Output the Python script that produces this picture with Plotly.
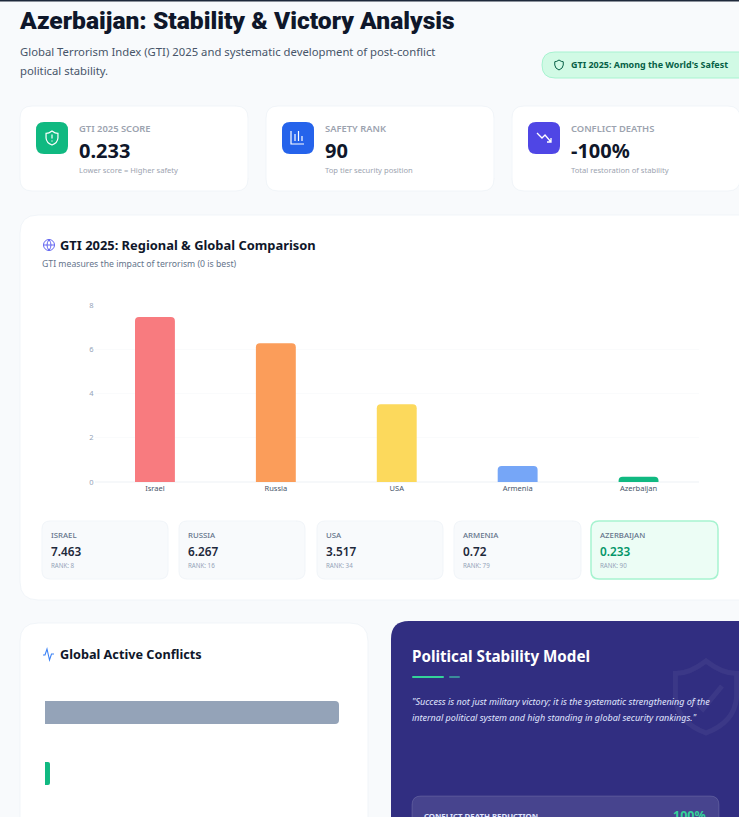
import re
import plotly.graph_objects as go

W, H = 739, 817

# --- data ---
countries = ["Israel", "Russia", "USA", "Armenia", "Azerbaijan"]
gti_scores = [7.463, 6.267, 3.517, 0.72, 0.233]
gti_labels = ["7.463", "6.267", "3.517", "0.72", "0.233"]
gti_ranks = [8, 16, 34, 79, 90]
bar_colors = ["#F87B7F", "#FB9D5A", "#FCD95C", "#76A6F7", "#10B981"]
y_ticks = [0, 2, 4, 6, 8]
conflict_names = ["Global active conflicts", "Azerbaijan"]
conflict_values = [59, 1]
conflict_colors = ["#94A3B8", "#10B981"]
conflict_radii = [4, 2]
kpi_labels = ["GTI 2025 SCORE", "SAFETY RANK", "CONFLICT DEATHS"]
kpi_values = ["0.233", "90", "-100%"]
kpi_notes = ["Lower score = Higher safety", "Top tier security position", "Total restoration of stability"]

FONT = "Noto Sans"
shapes, annos = [], []


def px(x):
    return x / W


def py(y):
    return 1 - y / H


def path(d):
    toks = re.findall(r"[MLCQZ]|-?\d+\.?\d*", d)
    out, is_x = [], True
    for t in toks:
        if t in "MLCQZ":
            out.append(t)
            is_x = True
        else:
            out.append(f"{px(float(t)) if is_x else py(float(t)):.6f}")
            is_x = not is_x
    return " ".join(out)


def rrect(x0, y0, x1, y1, r, fill, line="rgba(0,0,0,0)", lw=1, layer="below"):
    d = (f"M{x0+r} {y0} L{x1-r} {y0} Q{x1} {y0} {x1} {y0+r} L{x1} {y1-r} Q{x1} {y1} {x1-r} {y1} "
         f"L{x0+r} {y1} Q{x0} {y1} {x0} {y1-r} L{x0} {y0+r} Q{x0} {y0} {x0+r} {y0} Z")
    shapes.append(dict(type="path", xref="paper", yref="paper", path=path(d), fillcolor=fill,
                       line=dict(color=line, width=lw), layer=layer))


def stroke(d, color, lw=1.2, fill="rgba(0,0,0,0)", layer="above"):
    shapes.append(dict(type="path", xref="paper", yref="paper", path=path(d), fillcolor=fill,
                       line=dict(color=color, width=lw), layer=layer))


def circle(cx, cy, r, color, lw=1.0, fill="rgba(0,0,0,0)"):
    shapes.append(dict(type="circle", xref="paper", yref="paper", x0=px(cx-r), x1=px(cx+r),
                       y0=py(cy+r), y1=py(cy-r), fillcolor=fill, line=dict(color=color, width=lw), layer="above"))


def text(x, y, s, size, color, weight=400, anchor="left", italic=False, family=FONT):
    annos.append(dict(x=px(x), y=py(y), xref="paper", yref="paper", text=s, showarrow=False,
                      xanchor=anchor, yanchor="middle", borderpad=0,
                      font=dict(family=family, size=size, color=color, weight=weight,
                                style="italic" if italic else "normal")))


def shield(cx, cy, s, color, lw=1.1, fill="rgba(0,0,0,0)"):
    d = (f"M{cx} {cy-s} Q{cx+s*0.45} {cy-s*0.65} {cx+s*0.85} {cy-s*0.65} L{cx+s*0.85} {cy} "
         f"Q{cx+s*0.8} {cy+s*0.7} {cx} {cy+s} Q{cx-s*0.8} {cy+s*0.7} {cx-s*0.85} {cy} "
         f"L{cx-s*0.85} {cy-s*0.65} Q{cx-s*0.45} {cy-s*0.65} {cx} {cy-s} Z")
    stroke(d, color, lw, fill)


# --- page chrome ---
shapes.append(dict(type="rect", xref="paper", yref="paper", x0=0, x1=1, y0=py(1.5), y1=1,
                   fillcolor="#1E293B", line=dict(width=0), layer="below"))
text(18, 20.5, "Azerbaijan: Stability &amp; Victory Analysis", 24.6, "#0F172A", 900, family="Roboto")
text(18.5, 51.5, "Global Terrorism Index (GTI) 2025 and systematic development of post-conflict", 11.3, "#475569")
text(18.5, 70.5, "political stability.", 11.3, "#475569")

rrect(542, 52, 760, 78, 13, "#D1FAE5", "#A7F3D0")
shield(559, 65, 5, "#065F46", 1.0)
text(570, 65, "GTI 2025: Among the World's Safest", 8.95, "#065F46", 700)

# --- KPI cards ---
kpi_x = [20, 266, 512]
kpi_icon = ["#10B981", "#2563EB", "#4F46E5"]
for i, cx in enumerate(kpi_x):
    rrect(cx, 106, cx + 228, 191, 12, "#FFFFFF", "#F1F5F9")
    rrect(cx + 16, 122, cx + 48, 154, 8, kpi_icon[i])
    text(cx + 58, 128.5, kpi_labels[i], 9.4, "#9CA3AF", 600)
    text(cx + 58, 150.5, kpi_values[i], 20, "#0F172A", 700)
    text(cx + 58, 170, kpi_notes[i], 7.6, "#9CA3AF")
shield(52, 138, 7, "#FFFFFF", 1.2)
stroke("M52 134.5 L52 138.5", "#FFFFFF", 1.2)
stroke("M52 140.5 L52 141.5", "#FFFFFF", 1.2)
stroke("M291 131 L291 144 L304 144", "#FFFFFF", 1.2)
stroke("M295 134 L295 141 M298.5 131 L298.5 141 M302 136 L302 141", "#FFFFFF", 1.2)
stroke("M537 133 L542 138 L545 135 L551 142 M551 138 L551 142 L547 142", "#FFFFFF", 1.3)

# --- main card ---
rrect(20, 215, 775, 600, 18, "#FFFFFF", "#F1F5F9")
circle(49, 245, 5.5, "#6366F1", 1.0)
stroke("M43.5 245 L54.5 245 M49 239.5 Q45 245 49 250.5 M49 239.5 Q53 245 49 250.5", "#6366F1", 1.0)
text(59, 245, "GTI 2025: Regional &amp; Global Comparison", 12.9, "#0F172A", 700)
text(41, 263.5, "GTI measures the impact of terrorism (0 is best)", 8.7, "#64748B")

# --- summary tiles ---
tile_x = [(42, 168), (179, 305), (317, 443), (454, 581), (591, 718)]
for i, (x0, x1) in enumerate(tile_x):
    hi = i == len(tile_x) - 1
    rrect(x0, 521, x1, 579, 8, "#ECFDF5" if hi else "#F8FAFC", "#A7F3D0" if hi else "#F1F5F9", 1.5 if hi else 1)
    text(x0 + 8, 535, countries[i].upper(), 7.8, "#64748B", 500)
    text(x0 + 8, 551, gti_labels[i], 11.8, "#059669" if hi else "#1E293B", 600)
    text(x0 + 8, 565, f"RANK: {gti_ranks[i]}", 6.2, "#94A3B8")

# --- bottom cards ---
rrect(20, 623, 368, 860, 18, "#FFFFFF", "#F1F5F9")
stroke("M43 655 L45 655 L47 649 L49.5 660 L51.5 654 L54 654", "#3B82F6", 1.1)
text(59, 654, "Global Active Conflicts", 12.7, "#0F172A", 700)

rrect(391, 621, 775, 860, 18, "#312E81")
shield(706, 697, 36, "rgba(255,255,255,0.05)", 5)
stroke("M692 698 L703 709 L722 686", "rgba(255,255,255,0.05)", 5)
text(411, 655.5, "Political Stability Model", 15.2, "#FFFFFF", 700)
rrect(412, 676, 444, 678, 1, "#34D399", layer="above")
rrect(449, 676, 460, 678, 1, "#3B8C9A", layer="above")
text(411, 701, "\"Success is not just military victory; it is the systematic strengthening of the", 9, "#E0E7FF", 400, italic=True)
text(411, 717, "internal political system and high standing in global security rankings.\"", 9, "#E0E7FF", 400, italic=True)
rrect(412, 796, 719, 860, 9, "rgba(255,255,255,0.11)", "rgba(255,255,255,0.14)")
text(423, 816, "CONFLICT DEATH REDUCTION", 7.8, "#E0E7FF", 700)
text(707, 815, "100%", 12.5, "#34D399", 700, anchor="right")

# --- charts ---
fig = go.Figure()
fig.add_trace(go.Bar(x=countries, y=gti_scores, marker=dict(color=bar_colors, line=dict(width=0)),
                     xaxis="x", yaxis="y", showlegend=False, width=0.33, hoverinfo="x+y"))
for name, value, color, radius in zip(conflict_names, conflict_values, conflict_colors, conflict_radii):
    fig.add_trace(go.Bar(x=[value], y=[name], orientation="h",
                         marker=dict(color=color, line=dict(width=0), cornerradius=radius),
                         xaxis="x2", yaxis="y2", showlegend=False, width=0.38, hoverinfo="x+y"))

fig.update_layout(
    width=W, height=H, autosize=False, barmode="overlay",
    margin=dict(l=0, r=0, t=0, b=0, pad=0, autoexpand=False),
    paper_bgcolor="#F8FAFC", plot_bgcolor="rgba(0,0,0,0)",
    barcornerradius=4,
    font=dict(family=FONT),
    shapes=shapes, annotations=annos,
    xaxis=dict(domain=[px(94.5), px(699)], showgrid=False, zeroline=False, showline=False, ticks="",
               tickfont=dict(size=7.5, color="#475569", family=FONT), fixedrange=True),
    yaxis=dict(domain=[py(482), py(305)], range=[0, 8], tickvals=y_ticks, showgrid=True, gridcolor="#FAFBFC",
               gridwidth=1, zeroline=True, zerolinecolor="#F6F8FA", showline=False, ticks="",
               tickfont=dict(size=7.5, color="#94A3B8", family=FONT), fixedrange=True),
    xaxis2=dict(domain=[px(45), px(339)], range=[0, conflict_values[0]], anchor="y2", visible=False, fixedrange=True),
    yaxis2=dict(domain=[py(804), py(682)], anchor="x2", autorange="reversed", visible=False, fixedrange=True,
                categoryorder="array", categoryarray=conflict_names),
)
PIN = ("document.documentElement.style.overflow='hidden';document.body.style.margin='0';"
       "var g=document.getElementById('{plot_id}');g.style.position='fixed';g.style.left='0';g.style.top='0';")
fig.write_html("out.html", config=dict(displayModeBar=False, responsive=False), post_script=PIN)
